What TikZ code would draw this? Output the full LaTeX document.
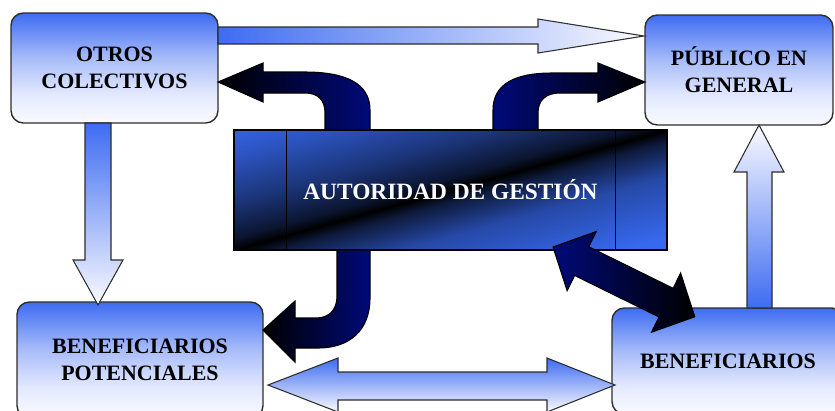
\documentclass[tikz,border=0pt]{standalone}
\usepackage{fontspec}
\setmainfont{Liberation Serif}

\definecolor{boxblue}{RGB}{62,108,242}
\definecolor{boxwhite}{RGB}{250,250,255}
\definecolor{agblue}{RGB}{55,105,240}
\definecolor{navyarrow}{RGB}{0,10,120}
\definecolor{edgegray}{RGB}{45,45,45}

\pgfdeclareverticalshading{boxfade}{100bp}{color(0bp)=(boxwhite); color(25bp)=(boxwhite);
  color(38bp)=(boxblue!12!boxwhite); color(55bp)=(boxblue!45!boxwhite); color(75bp)=(boxblue);
  color(100bp)=(boxblue)}
\pgfdeclareverticalshading{agband}{100bp}{color(0bp)=(agblue); color(22bp)=(agblue);
  color(38bp)=(agblue!70!black); color(47bp)=(agblue!25!black); color(50bp)=(black);
  color(53bp)=(agblue!20!black); color(62bp)=(agblue!50!black); color(74bp)=(agblue!80!black);
  color(84bp)=(agblue); color(100bp)=(agblue)}

\begin{document}
\begin{tikzpicture}[x=0.02cm, y=-0.02cm,
    box/.style={draw=edgegray, line width=0.8pt, rounded corners=7pt, shade, shading=boxfade,
      align=center, inner sep=0pt, font=\fontsize{12.5}{15.5}\selectfont\bfseries},
    lightarrow/.style={draw=edgegray, line width=0.6pt},
    darkarrow/.style={draw=black, line width=0.6pt}]
  \clip (0,0) rectangle (835,410);

  % boxes
  \node[box, minimum width=4.14cm, minimum height=2.2cm] (oc) at (114.5,68) {OTROS\\COLECTIVOS};
  \node[box, minimum width=3.76cm, minimum height=2.2cm] (pg) at (739,70) {PÚBLICO EN\\GENERAL};
  \node[box, minimum width=4.92cm, minimum height=2.32cm] (bp) at (140,360) {BENEFICIARIOS\\POTENCIALES};
  \node[box, minimum width=4.64cm, minimum height=2.12cm] (bn) at (728,361) {BENEFICIARIOS};

  % authority
  \node[draw=black, line width=0.8pt, shade, shading=agband, shading angle=15.5,
    minimum width=8.66cm, minimum height=2.4cm, text=white,
    font=\fontsize{13.3}{15}\selectfont\bfseries] (ag) at (450.5,190) {AUTORIDAD DE GESTIÓN};
  \draw[line width=0.8pt] ([xshift=1.06cm]ag.north west) -- ([xshift=1.06cm]ag.south west);
  \draw[line width=0.8pt] ([xshift=-1.04cm]ag.north east) -- ([xshift=-1.04cm]ag.south east);

  % light block arrows
  \shade[lightarrow, left color=boxblue, right color=boxwhite]
    (218,27) -- (538,27) -- (538,19) -- (644,36) -- (538,53) -- (538,44) -- (218,44) -- cycle;
  \shade[lightarrow, top color=boxblue, bottom color=boxwhite]
    (85,123) -- (85,260) -- (73,260) -- (98,305) -- (123,260) -- (111,260) -- (111,123) -- cycle;
  \shade[lightarrow, top color=boxwhite, bottom color=boxblue]
    (747,308) -- (747,172) -- (734,172) -- (759,125) -- (784,172) -- (772,172) -- (772,308) -- cycle;
  \shade[lightarrow, top color=boxblue, bottom color=boxwhite]
    (268,385) -- (338,358) -- (338,372) -- (547,372) -- (547,358) -- (615,385)
    -- (547,412) -- (547,400) -- (338,400) -- (338,412) -- cycle;

  % dark bent arrows
  \shade[darkarrow, left color=black, right color=navyarrow]
    (370,130) -- (370,110) .. controls (370,83) and (345,72) .. (305,72) -- (263,72)
    -- (263,63) -- (218,82) -- (263,102) -- (263,93) -- (305,93)
    .. controls (318,93) and (325,100) .. (325,113) -- (325,130) -- cycle;
  \shade[darkarrow, left color=navyarrow, right color=black]
    (493,130) -- (493,110) .. controls (493,84) and (515,73) .. (552,73) -- (598,73)
    -- (598,63) -- (645,82) -- (598,102) -- (598,93) -- (560,93)
    .. controls (546,93) and (538,100) .. (538,113) -- (538,130) -- cycle;
  \shade[darkarrow, left color=black, right color=navyarrow]
    (370,250) -- (370,298) .. controls (370,330) and (350,348) .. (318,348) -- (295,348)
    -- (295,362) -- (263,330) -- (295,301) -- (295,318) -- (316,318)
    .. controls (329,318) and (337,310) .. (337,296) -- (337,250) -- cycle;

  % double arrow between authority and beneficiaries
  \coordinate (dtip) at (553,247);
  \begin{scope}[shift={(dtip)}, rotate=-26.2]
    \shade[darkarrow, left color=navyarrow, right color=black]
      (0,0) -- (32,-33) -- (32,-16) -- (126,-16) -- (126,-33) -- (158,0)
      -- (126,33) -- (126,16) -- (32,16) -- (32,33) -- cycle;
  \end{scope}
\end{tikzpicture}
\end{document}
